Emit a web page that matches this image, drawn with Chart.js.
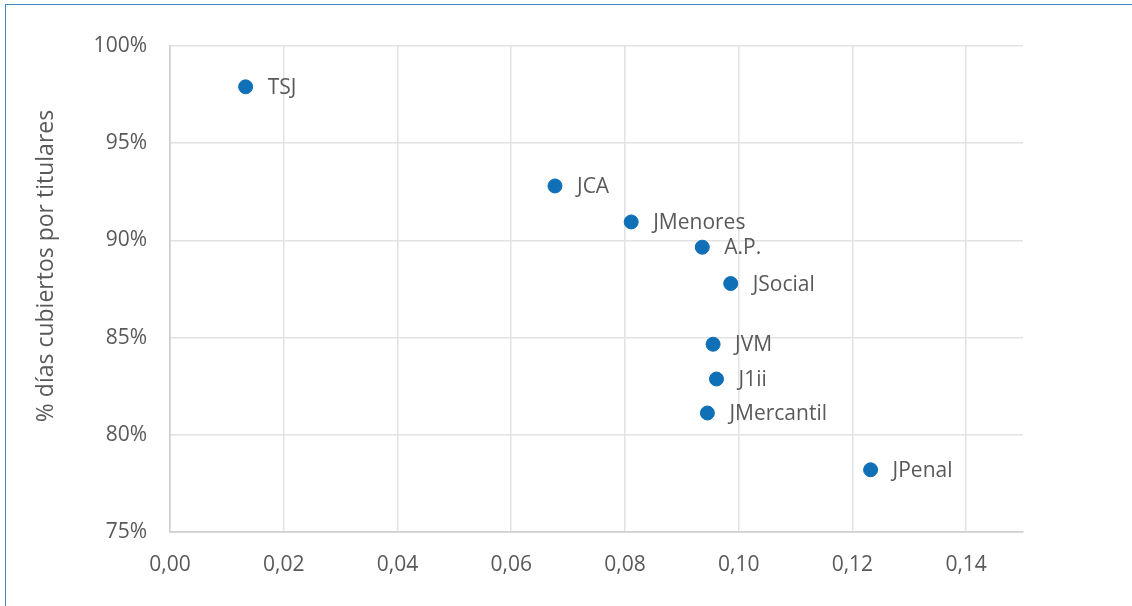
<!DOCTYPE html>
<html>
<head>
<meta charset="utf-8">
<script src="https://cdn.jsdelivr.net/npm/chart.js@4.4.1/dist/chart.umd.min.js"></script>
<style>
  html, body { margin: 0; padding: 0; background: #fff; overflow: hidden; }
  #wrap { position: relative; width: 1132px; height: 606px; }
  #frame { position: absolute; left: 5px; top: 4px; width: 1200px; height: 700px; border: 1px solid #3f88c5; box-sizing: border-box; pointer-events: none; }
  canvas { position: absolute; left: 0; top: 0; }
</style>
</head>
<body>
<div id="wrap">
  <canvas id="chart" width="1132" height="606"></canvas>
  <div id="frame"></div>
</div>
<script>
/* ── Datos ── */
const labels = ['TSJ', 'JCA', 'JMenores', 'A.P.', 'JSocial', 'JVM', 'J1ii', 'JMercantil', 'JPenal'];
const xValues = [0.0133, 0.0677, 0.0811, 0.0936, 0.0986, 0.0955, 0.0961, 0.0945, 0.1232];
const yValues = [97.9, 92.8, 90.95, 89.65, 87.78, 84.66, 82.87, 81.12, 78.2];
const xTicks = [0, 0.02, 0.04, 0.06, 0.08, 0.10, 0.12, 0.14];
const yTicks = [75, 80, 85, 90, 95, 100];
const yTitle = '% días cubiertos por titulares';

const textColor = '#595959';
const fontFamily = "'Open Sans', sans-serif";

/* ── Etiquetas de puntos y título del eje ── */
const pointLabels = {
  id: 'pointLabels',
  afterDatasetsDraw(chart) {
    const ctx = chart.ctx;
    const meta = chart.getDatasetMeta(0);
    ctx.save();
    ctx.font = '21px ' + fontFamily;
    ctx.fillStyle = textColor;
    ctx.textBaseline = 'middle';
    ctx.textAlign = 'left';
    meta.data.forEach((pt, i) => {
      ctx.fillText(labels[i], pt.x + 22, pt.y + 1);
    });
    ctx.restore();
  },
  afterDraw(chart) {
    const ctx = chart.ctx;
    ctx.save();
    ctx.font = '23px ' + fontFamily;
    ctx.fillStyle = textColor;
    ctx.textAlign = 'center';
    ctx.textBaseline = 'middle';
    ctx.translate(46, 266);
    ctx.rotate(-Math.PI / 2);
    ctx.fillText(yTitle, 0, 0);
    ctx.restore();
  }
};

new Chart(document.getElementById('chart'), {
  type: 'scatter',
  data: {
    datasets: [{
      data: xValues.map((x, i) => ({ x, y: yValues[i] })),
      backgroundColor: '#0f6fb7',
      borderColor: '#0f6fb7',
      pointRadius: 7,
      pointHoverRadius: 7
    }]
  },
  options: {
    responsive: false,
    animation: false,
    layout: { padding: { top: 46, right: 109, left: 0, bottom: 0 } },
    plugins: {
      legend: { display: false },
      tooltip: { enabled: false }
    },
    scales: {
      x: {
        type: 'linear',
        min: 0,
        max: 0.15,
        afterBuildTicks: scale => { scale.ticks = xTicks.map(v => ({ value: v })); },
        afterFit: scale => { scale.height = 74; },
        grid: {
          color: ctx => ctx.tick && ctx.tick.value === 0 ? '#d0d0d0' : '#e2e2e2',
          lineWidth: 1.5,
          drawTicks: false
        },
        border: { color: '#d0d0d0', width: 1.5 },
        ticks: {
          padding: 20,
          color: textColor,
          font: { family: fontFamily, size: 21 },
          callback: v => v.toFixed(2).replace('.', ',')
        }
      },
      y: {
        min: 75,
        max: 100,
        afterBuildTicks: scale => { scale.ticks = yTicks.map(v => ({ value: v })); },
        afterFit: scale => { scale.width = 170; },
        grid: {
          color: ctx => ctx.tick && ctx.tick.value === 75 ? '#d0d0d0' : '#e2e2e2',
          lineWidth: 1.5,
          drawTicks: false
        },
        border: { color: '#d0d0d0', width: 1.5 },
        ticks: {
          padding: 23,
          color: textColor,
          font: { family: fontFamily, size: 21 },
          callback: v => v + '%'
        }
      }
    }
  },
  plugins: [pointLabels]
});
</script>
</body>
</html>
